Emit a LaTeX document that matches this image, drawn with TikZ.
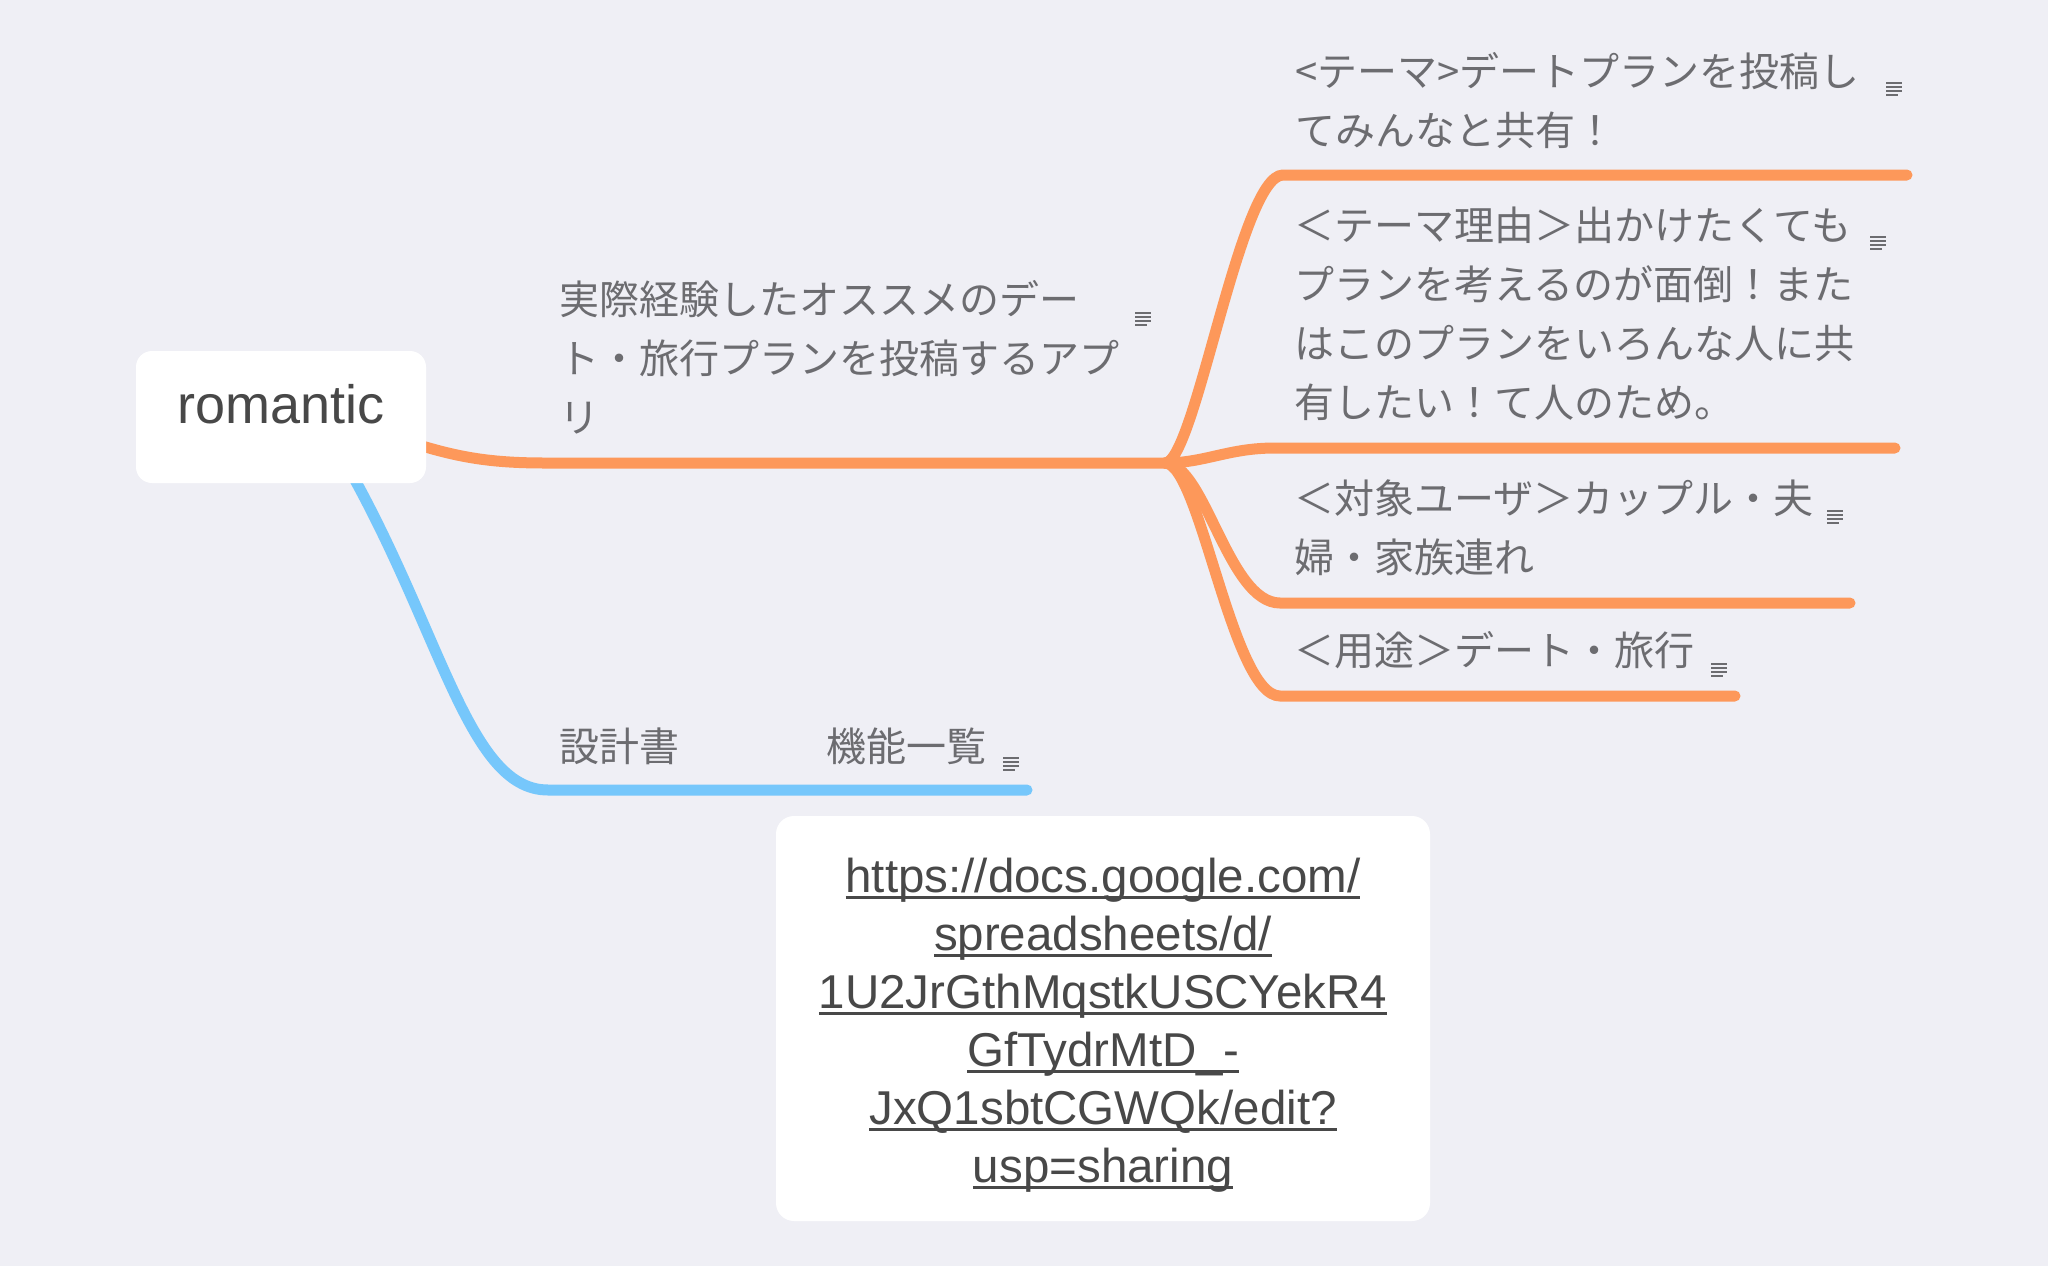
\documentclass[tikz,border=0pt]{standalone}
\usepackage{fontspec}
\setmainfont{Liberation Sans}
\newfontfamily\jp{Noto Sans CJK JP}
\definecolor{bg}{RGB}{239,239,245}
\definecolor{orangeline}{RGB}{253,152,90}
\definecolor{blueline}{RGB}{118,199,251}
\definecolor{txt}{RGB}{108,108,112}
\definecolor{dark}{RGB}{72,72,72}
\newcommand\jlines[1]{\begin{tabular}[t]{@{}l@{}}#1\end{tabular}}
\newsavebox\ulbox
\newcommand\ulink[1]{\sbox\ulbox{#1}\rlap{\rule[-7pt]{\wd\ulbox}{2.6pt}}\usebox\ulbox}
\begin{document}
\begin{tikzpicture}[x=1pt,y=-1pt,
  jtext/.style={font=\jp\fontsize{40}{59}\selectfont, text=txt, inner sep=0pt, anchor=base west},
  orangebranch/.style={line width=11pt, line cap=round, draw=orangeline},
  bluebranch/.style={line width=11pt, line cap=round, draw=blueline},
  rootbox/.style={fill=white, rounded corners=16pt, inner sep=0pt, text=dark,
    font=\fontsize{54}{60}\selectfont},
  urlbox/.style={fill=white, rounded corners=18pt, inner sep=0pt, text=dark,
    font=\fontsize{47.5}{58}\selectfont},
  iconline/.style={line width=1.6pt, draw=txt},
  noteicon/.pic={\draw[iconline] (-8,-6)--(8,-6) (-8,-2)--(8,-2) (-8,2)--(8,2) (-8,6)--(4,6);}
]
\fill[bg] (0,0) rectangle (2048,1266);
\useasboundingbox (0,0) rectangle (2048,1266);

% junction coordinates
\coordinate (bp) at (1165,463);
\coordinate (mainstart) at (380,432);
\coordinate (mainbend) at (545,463);
\coordinate (c1s) at (1283,175); \coordinate (c1e) at (1907,175);
\coordinate (c2s) at (1275,448); \coordinate (c2e) at (1895,448);
\coordinate (c3s) at (1280,603); \coordinate (c3e) at (1850,603);
\coordinate (c4s) at (1280,696); \coordinate (c4e) at (1735,696);
\coordinate (bstart) at (335,445);
\coordinate (bbend) at (548,790);
\coordinate (bend) at (1027,790);

% connectors
\draw[orangebranch] (mainstart) .. controls (445,455) and (480,463) .. (mainbend) -- (bp);
\draw[orangebranch] (bp) .. controls (1195,463) and (1240,175) .. (c1s) -- (c1e);
\draw[orangebranch] (bp) .. controls (1205,463) and (1228,448) .. (c2s) -- (c2e);
\draw[orangebranch] (bp) .. controls (1205,463) and (1228,603) .. (c3s) -- (c3e);
\draw[orangebranch] (bp) .. controls (1200,463) and (1232,696) .. (c4s) -- (c4e);
\draw[bluebranch] (bstart) .. controls (440,620) and (465,790) .. (bbend) -- (bend);

% root
\node[rootbox, minimum width=290pt, minimum height=132pt, text height=30pt, text depth=18pt]
  (root) at (281,417) {romantic};

% labels
\node[jtext] (main) at (559,314) {\jlines{実際経験したオススメのデー\\ト・旅行プランを投稿するアプ\\リ}};
\node[jtext] (c1) at (1295,86) {\jlines{<テーマ>デートプランを投稿し\\てみんなと共有！}};
\node[jtext] (c2) at (1294,240) {\jlines{＜テーマ理由＞出かけたくても\\プランを考えるのが面倒！また\\はこのプランをいろんな人に共\\有したい！て人のため。}};
\node[jtext] (c3) at (1294,513) {\jlines{＜対象ユーザ＞カップル・夫\\婦・家族連れ}};
\node[jtext] (c4) at (1294,665) {＜用途＞デート・旅行};
\node[jtext] (design) at (559,761) {設計書\hspace{147pt}機能一覧};

% note icons
\pic at (1143,319) {noteicon};
\pic at (1894,89) {noteicon};
\pic at (1878,243) {noteicon};
\pic at (1835,517) {noteicon};
\pic at (1719,670) {noteicon};
\pic at (1011,764) {noteicon};

% url note
\node[urlbox, minimum width=654pt, minimum height=405pt, text height=40pt, text depth=293pt]
  (url) at (1103,1018.5) {\begin{tabular}[t]{@{}c@{}}
  \ulink{https://docs.google.com/}\\
  \ulink{spreadsheets/d/}\\
  \ulink{1U2JrGthMqstkUSCYekR4}\\
  \ulink{GfTydrMtD\_-}\\
  \ulink{JxQ1sbtCGWQk/edit?}\\
  \ulink{usp=sharing}
  \end{tabular}};
\end{tikzpicture}
\end{document}
